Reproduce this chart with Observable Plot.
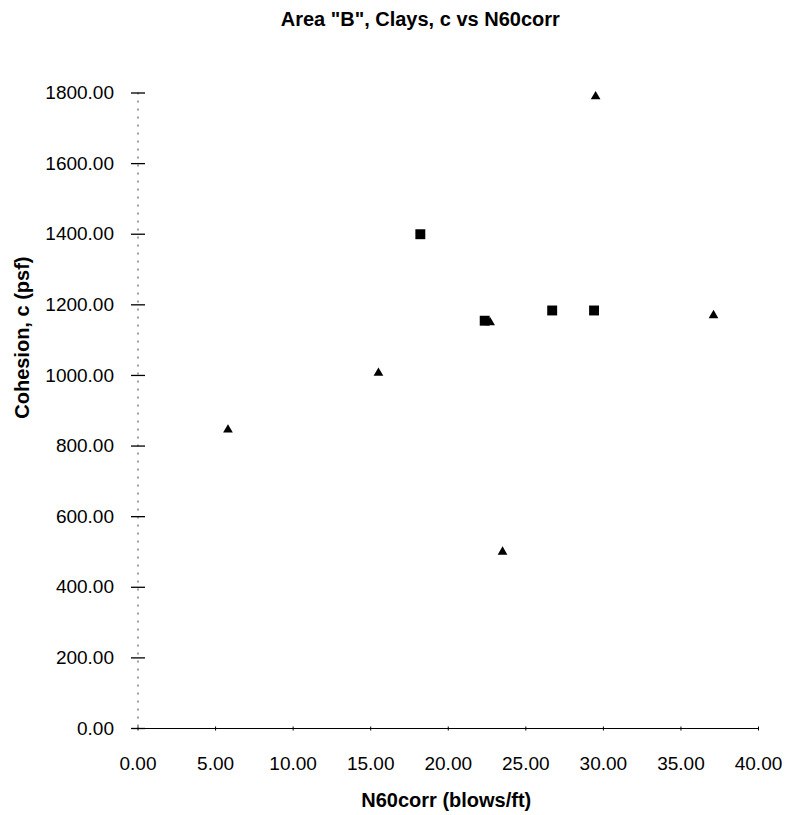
<!DOCTYPE html>
<html>
<head>
<meta charset="utf-8">
<script src="https://cdn.jsdelivr.net/npm/d3@7"></script>
<script src="https://cdn.jsdelivr.net/npm/@observablehq/plot@0.6"></script>
<style>
  html, body { margin: 0; padding: 0; background: #fff; }
  #chart { width: 786px; height: 815px; }
</style>
</head>
<body>
<div id="chart"></div>
<script>
// ---- data ----
const titleText = 'Area "B", Clays, c vs N60corr';
const xLabel = "N60corr (blows/ft)";
const yLabel = "Cohesion, c (psf)";

const squareN = [18.2, 22.35, 26.7, 29.4];
const squareC = [1400, 1155, 1184, 1184];

const triangleN = [5.8, 15.5, 22.7, 23.5, 29.5, 37.1];
const triangleC = [846, 1007, 1150, 500, 1790, 1170];

const xTicks = [0, 5, 10, 15, 20, 25, 30, 35, 40];
const yTicks = [0, 200, 400, 600, 800, 1000, 1200, 1400, 1600, 1800];

// ---- build tables ----
const squares = squareN.map((n, i) => ({n, c: squareC[i]}));
const triangles = triangleN.map((n, i) => ({n, c: triangleC[i]}));

const hTick = {draw(ctx) { ctx.moveTo(-7, 0); ctx.lineTo(7, 0); }};
const vTick = {draw(ctx) { ctx.moveTo(0, -2); ctx.lineTo(0, 2); }};
const fmt = d3.format(".2f");

const chart = Plot.plot({
  width: 786,
  height: 815,
  marginLeft: 137.5,
  marginRight: 28,
  marginTop: 92.5,
  marginBottom: 87,
  style: {fontFamily: "'Liberation Sans', Arial, sans-serif", fontSize: "19px", color: "#000", background: "#fff"},
  x: {domain: [0, 40]},
  y: {domain: [0, 1800]},
  marks: [
    Plot.ruleX([0], {stroke: "#444", strokeDasharray: "2,6", strokeWidth: 1}),
    Plot.ruleY([0], {stroke: "#000", strokeWidth: 1.2}),
    Plot.dot(yTicks, {x: 0, y: d => d, symbol: hTick, stroke: "#000", strokeWidth: 1.3, r: 1}),
    Plot.dot(xTicks, {x: d => d, y: 0, symbol: vTick, stroke: "#000", strokeWidth: 1, r: 1}),
    Plot.axisY(yTicks, {tickSize: 0, tickPadding: 24, tickFormat: fmt, label: null, fontSize: 19}),
    Plot.axisX(xTicks, {tickSize: 0, tickPadding: 28, tickFormat: fmt, label: null, fontSize: 19}),
    Plot.dot(squares, {x: "n", y: "c", symbol: "square", r: 5.6, fill: "#000", stroke: "none"}),
    Plot.dot(triangles, {x: "n", y: "c", symbol: "triangle", r: 3.6, fill: "#000", stroke: "none"}),
    Plot.text([titleText], {frameAnchor: "top", dx: -28, dy: -73.5, lineAnchor: "middle", fontWeight: "bold", fontSize: 20}),
    Plot.text([xLabel], {frameAnchor: "bottom", dx: -2, dy: 72, lineAnchor: "middle", fontWeight: "bold", fontSize: 20}),
    Plot.text([yLabel], {frameAnchor: "left", dx: -115.5, dy: 8, rotate: -90, lineAnchor: "middle", fontWeight: "bold", fontSize: 20})
  ]
});
document.getElementById("chart").append(chart);
</script>
</body>
</html>
